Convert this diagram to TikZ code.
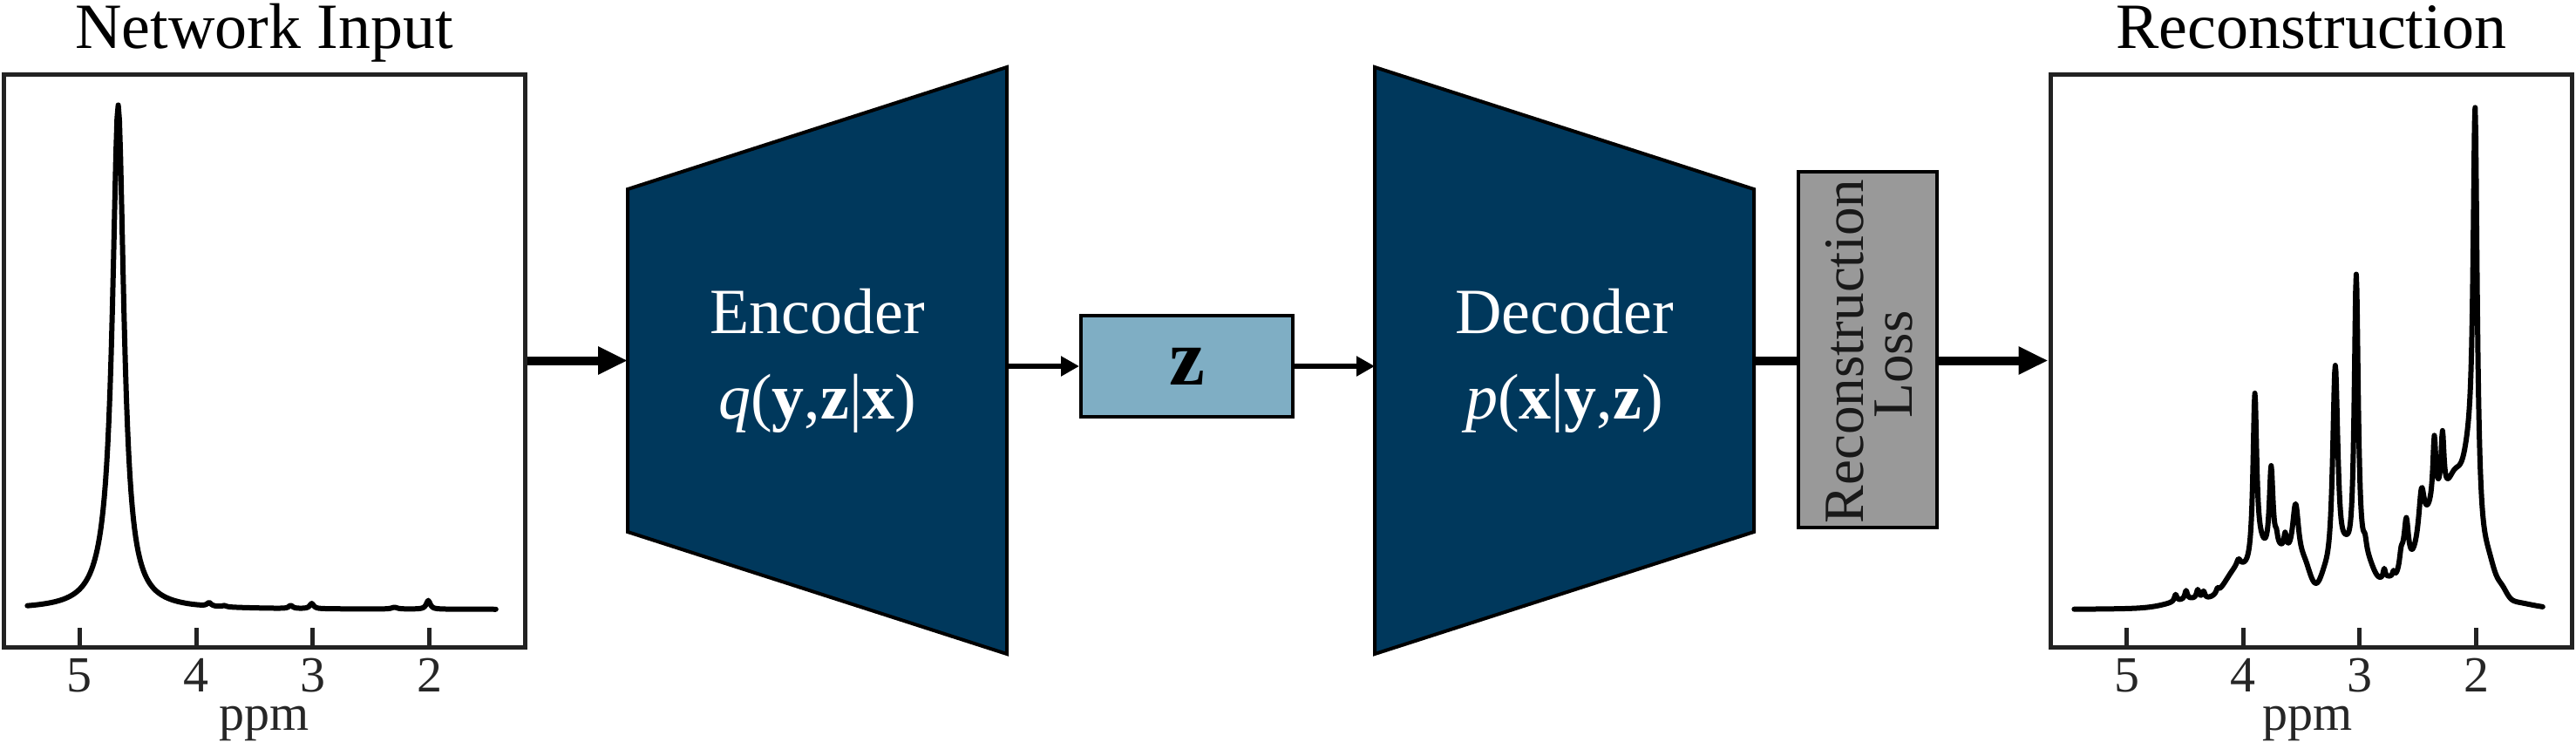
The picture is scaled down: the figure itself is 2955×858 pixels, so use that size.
\documentclass[tikz,border=0pt]{standalone}
\usepackage{fontspec}
\setmainfont{Liberation Serif}
\usetikzlibrary{arrows.meta}
\definecolor{navy}{HTML}{00385C}
\definecolor{zblue}{HTML}{7FAEC4}
\definecolor{lossgrey}{HTML}{999999}
\definecolor{frm}{HTML}{222222}
\definecolor{labgrey}{HTML}{262626}
\begin{document}
\begin{tikzpicture}[x=0.25pt,y=-0.25pt,
  declare function={
    sq(\uv)=\uv*\uv;
    lor(\xv,\cv,\wv,\hv)=\hv/(1+sq(min(abs(\xv-\cv)/\wv,100)));
    gau(\xv,\cv,\wv,\hv)=\hv*exp(-sq(min(abs(\xv-\cv)/\wv,4)));
    fL(\pv)=lor(\pv,4.67,0.058,553)+lor(\pv,4.72,0.16,28)+lor(\pv,3.89,0.02,4)+lor(\pv,3.76,0.02,1.5)+lor(\pv,3.19,0.02,3.5)+lor(\pv,3.01,0.02,6)+lor(\pv,2.01,0.02,10)+lor(\pv,2.3,0.03,2);
    fR(\pv)=gau(\pv,3.3,1.0,12)+gau(\pv,4.05,0.15,35)+gau(\pv,3.70,0.20,50)+gau(\pv,3.86,0.06,20)+gau(\pv,3.47,0.06,18)+gau(\pv,3.30,0.05,12)+gau(\pv,3.12,0.06,32)+gau(\pv,2.94,0.09,33)+gau(\pv,2.76,0.10,18)+gau(\pv,2.62,0.05,20)+gau(\pv,2.30,0.25,118)+gau(\pv,2.17,0.08,48)+gau(\pv,2.05,0.08,105)+gau(\pv,1.90,0.08,38)+gau(\pv,1.78,0.06,12)+gau(\pv,1.70,0.25,6)+gau(\pv,4.45,0.25,8)+lor(\pv,3.90,0.019,192)+lor(\pv,3.76,0.019,100)+lor(\pv,3.715,0.013,11)+lor(\pv,3.64,0.013,18)+lor(\pv,3.55,0.033,74)+lor(\pv,3.21,0.028,258)+lor(\pv,3.03,0.021,350)+lor(\pv,2.955,0.016,14)+lor(\pv,2.79,0.011,11)+lor(\pv,2.71,0.011,7)+lor(\pv,2.645,0.016,14)+lor(\pv,2.60,0.021,45)+lor(\pv,2.47,0.028,54)+lor(\pv,2.36,0.015,74)+lor(\pv,2.29,0.015,70)+lor(\pv,2.01,0.021,452)+lor(\pv,4.04,0.02,8)+lor(\pv,4.58,0.013,8)+lor(\pv,4.49,0.013,10)+lor(\pv,4.39,0.013,10)+lor(\pv,4.34,0.013,8)+lor(\pv,4.22,0.013,5);
  },
  frmbox/.style={draw=frm, line width=1.25pt, inner sep=0pt, minimum width=149.5pt, minimum height=164.25pt},
  ttl/.style={font=\fontsize{18.5}{22}\selectfont, anchor=base, inner sep=0pt},
  ticklab/.style={font=\fontsize{14.5}{16}\selectfont, text=labgrey, anchor=base, inner sep=0pt},
  axlab/.style={font=\fontsize{14.5}{16}\selectfont, text=labgrey, anchor=base, inner sep=0pt},
  block/.style={fill=navy, draw=black, line width=1pt, line join=miter},
  blocktxt/.style={font=\fontsize{18.5}{22}\selectfont, text=white, anchor=base, inner sep=0pt},
  zbox/.style={fill=zblue, draw=black, line width=1pt, minimum width=60.75pt, minimum height=29pt, inner sep=0pt, font=\bfseries\fontsize{23}{26}\selectfont},
  lossbox/.style={fill=lossgrey, draw=black, line width=1pt, minimum width=39.75pt, minimum height=102pt, inner sep=0pt},
  losstxt/.style={font=\fontsize{16.3}{18}\selectfont, text=black!90, rotate=90, anchor=base, inner sep=0pt},
  spec/.style={line width=1.5pt, line join=round, line cap=round},
  tk/.style={draw=frm, line width=1.25pt},
  thickarrow/.style={line width=2.5pt, -{Triangle[length=8.5pt,width=7.5pt]}},
  thinarrow/.style={line width=1.5pt, -{Triangle[length=5.25pt,width=5.5pt]}},
  thickline/.style={line width=2.5pt}
]
\useasboundingbox (0,0) rectangle (2955,858);

% ---------- input plot ----------
\node[ttl] (tin) at (303,55) {Network Input};
\node[frmbox] (inbox) at (303,413.5) {};
\begin{scope}[shift={(4,0)}]
  \foreach \p in {5,4,3,2} {
    \draw[tk] ({87.5+(5-\p)*133.7},742) -- ++(0,-22);
    \node[ticklab] (inT\p) at ({87.5+(5-\p)*133.7},793) {\p};
  }
  \draw[spec] plot[domain=0:402, samples=403, variable=\sk] ({27.335+\sk*1.337}, {699-fL(5.45-\sk/100)});
\end{scope}
\node[axlab] (inppm) at (303,837) {ppm};

% ---------- encoder ----------
\path[block] (720,217) -- (1155,77) -- (1155,750) -- (720,610) -- cycle;
\coordinate (encL) at (720,413.5);
\coordinate (encR) at (1155,413.5);
\node[blocktxt] (enc) at (937.5,382) {Encoder};
\node[blocktxt] (encf) at (937.5,480) {\textit{q}(\textbf{y},\textbf{z}|\textbf{x})};

% ---------- latent ----------
\node[zbox] (z) at (1361.5,420) {z};

% ---------- decoder ----------
\path[block] (1577,77) -- (2012,217) -- (2012,610) -- (1577,750) -- cycle;
\coordinate (decL) at (1577,413.5);
\coordinate (decR) at (2012,413.5);
\node[blocktxt] (dec) at (1794.5,382) {Decoder};
\node[blocktxt] (decf) at (1794.5,480) {\textit{p}(\textbf{x}|\textbf{y},\textbf{z})};

% ---------- loss ----------
\node[lossbox] (loss) at (2142.5,401) {};
\node[losstxt] (lossA) at (2137,403) {Reconstruction};
\node[losstxt] (lossB) at (2193,418) {Loss};

% ---------- output plot ----------
\node[ttl] (tout) at (2651,55) {Reconstruction};
\node[frmbox] (outbox) at (2651,413.5) {};
\begin{scope}[shift={(2352,0)}]
  \foreach \p in {5,4,3,2} {
    \draw[tk] ({87.5+(5-\p)*133.7},742) -- ++(0,-22);
    \node[ticklab] (outT\p) at ({87.5+(5-\p)*133.7},793) {\p};
  }
  \draw[spec] plot[domain=0:804, samples=805, variable=\sk] ({27.335+\sk*0.6685}, {699-fR(5.45-\sk/200)});
\end{scope}
\node[axlab] (outppm) at (2647,837) {ppm};

% ---------- connectors ----------
\draw[thickarrow] (inbox.east) -- (encL);
\draw[thinarrow] (encR |- z.west) -- (z.west);
\draw[thinarrow] (z.east) -- (decL |- z.east);
\draw[thickline] (decR) -- (decR -| loss.west);
\draw[thickarrow] (decR -| loss.east) -- (outbox.west);
\end{tikzpicture}
\end{document}
